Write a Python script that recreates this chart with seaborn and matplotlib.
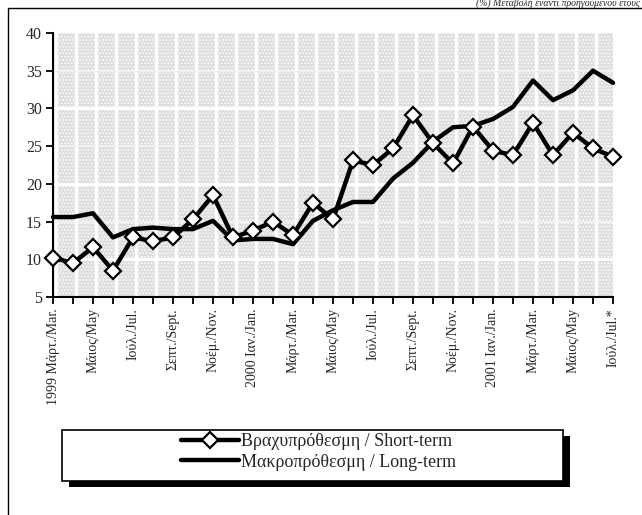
import matplotlib
matplotlib.use("Agg")
import numpy as np
import pandas as pd
import seaborn as sns
from matplotlib import pyplot as plt
from matplotlib.patches import Rectangle

# monthly observations, Mar 1999 - Jul 2001
short_term = [10.2, 9.5, 11.6, 8.5, 12.9, 12.4, 12.9, 15.3, 18.5, 12.9,
              13.8, 15.0, 13.2, 17.5, 15.3, 23.1, 22.5, 24.7, 29.1, 25.4,
              22.7, 27.6, 24.4, 23.8, 28.1, 23.8, 26.8, 24.7, 23.6]
long_term = [15.6, 15.6, 16.1, 12.9, 14.0, 14.2, 14.0, 14.0, 15.1, 12.5,
             12.7, 12.7, 12.0, 15.1, 16.5, 17.6, 17.6, 20.7, 22.8, 25.6,
             27.5, 27.7, 28.6, 30.2, 33.7, 31.1, 32.4, 35.0, 33.4]
tick_labels = ["1999 Μάρτ./Mar.", "Μάιος/May", "Ιούλ./Jul.", "Σεπτ./Sept.",
               "Νοέμ./Nov.", "2000 Ιαν./Jan.", "Μάρτ./Mar.", "Μάιος/May",
               "Ιούλ./Jul.", "Σεπτ./Sept.", "Νοέμ./Nov.", "2001 Ιαν./Jan.",
               "Μάρτ./Mar.", "Μάιος/May", "Ιούλ./Jul.*"]
short_name = "Βραχυπρόθεσμη / Short-term"
long_name = "Μακροπρόθεσμη / Long-term"

df = pd.DataFrame({'x': np.arange(len(short_term)),
                   'short': short_term, 'long': long_term})

sns.set_style('white')
plt.rcParams['font.family'] = ['Liberation Serif', 'DejaVu Serif']
plt.rcParams['hatch.color'] = '#707070'
plt.rcParams['hatch.linewidth'] = 0.7

fig = plt.figure(figsize=(6.42, 5.15), dpi=100)
ax = fig.add_axes([53 / 642, 1 - 297 / 515, 560 / 642, 264 / 515])

# dotted background
ax.set_facecolor('white')
ax.add_patch(Rectangle((0, 0), 1, 1, transform=ax.transAxes, facecolor='#dedede',
                       hatch='.....', lw=0, zorder=0))
for v in range(len(short_term)):
    ax.axvline(v + 0.15, color='white', lw=2.4, zorder=0.5)
for h in range(10, 40, 10):
    ax.axhline(h, color='white', lw=2.2, zorder=0.5)
for h in range(15, 40, 10):
    ax.axhline(h, color='#f4f4f4', lw=1.2, zorder=0.5)

sns.lineplot(data=df, x='x', y='long', color='black', lw=3.2, ax=ax,
             label=long_name, zorder=3, clip_on=False)
sns.lineplot(data=df, x='x', y='short', color='black', lw=3.2, marker='D',
             markersize=8.5, markerfacecolor='white', markeredgecolor='black',
             markeredgewidth=1.6, ax=ax, label=short_name, zorder=4, clip_on=False)

ax.set_xlim(0, len(short_term) - 1)
ax.set_ylim(5, 40)
ax.set_yticks(range(5, 41, 5))
ax.set_xticks(range(len(short_term)))
labels = [''] * len(short_term)
labels[::2] = tick_labels
ax.set_xticklabels(labels, rotation=90, va='top', ha='center')
ax.set_xlabel('')
ax.set_ylabel('')
ax.tick_params(axis='both', direction='out', length=5, width=1.3, color='black',
               left=True, bottom=True, pad=3)
ax.tick_params(axis='x', labelsize=10)
ax.tick_params(axis='y', labelsize=11.5)
for side in ['top', 'right']:
    ax.spines[side].set_visible(False)
for side in ['left', 'bottom']:
    ax.spines[side].set_color('black')
    ax.spines[side].set_linewidth(1.5)

# legend box with shadow
ax.get_legend().remove()
lx, ly, lw_, lh = 62, 430, 501, 51
fig.add_artist(Rectangle(((lx + 7) / 642, 1 - (ly + lh + 6) / 515), lw_ / 642, lh / 515,
                         transform=fig.transFigure, facecolor='black', lw=0, zorder=1))
fig.add_artist(Rectangle((lx / 642, 1 - (ly + lh) / 515), lw_ / 642, lh / 515,
                         transform=fig.transFigure, facecolor='white', edgecolor='black',
                         lw=1.2, zorder=2))
handles, hl = ax.get_legend_handles_labels()
order = [hl.index(short_name), hl.index(long_name)]
leg = fig.legend([handles[i] for i in order], [hl[i] for i in order],
                 loc='center left', bbox_to_anchor=(172 / 642, 1 - 452 / 515),
                 frameon=False, fontsize=13, handlelength=3.2, handletextpad=0.1,
                 labelspacing=0.2, borderpad=0)
leg.set_zorder(3)

# outer frame and heading
fig.add_artist(Rectangle((8 / 642, -0.1), 1.2, 1.1 - 8 / 515, transform=fig.transFigure,
                         fill=False, edgecolor='black', lw=1.0))
fig.text(640 / 642, 1 - 6 / 515, "(%) Μεταβολή έναντι προηγούμενου έτους",
         fontsize=7, style='italic', va='baseline', ha='right')

fig.savefig('out.png', dpi=100)
